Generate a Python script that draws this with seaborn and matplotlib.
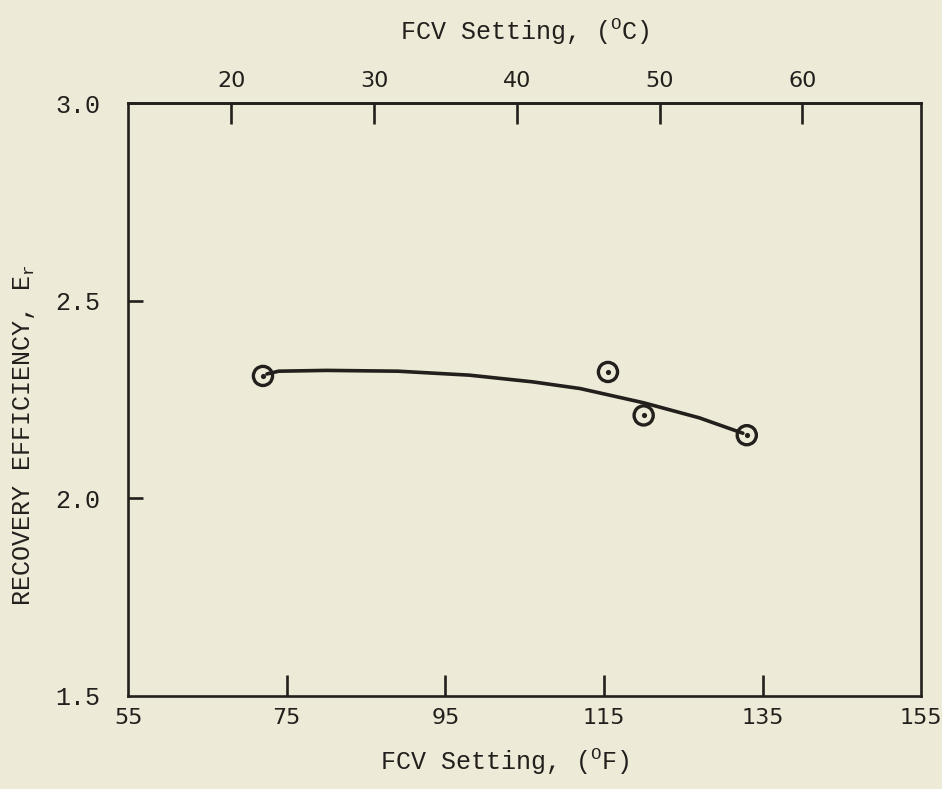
import numpy as np
import matplotlib
matplotlib.use("Agg")
import matplotlib.pyplot as plt
import seaborn as sns

# measured points (FCV setting in deg F, recovery efficiency)
fcv_f = [72.0, 115.5, 120.0, 133.0]
eff_r = [2.31, 2.32, 2.21, 2.16]

# hand-drawn trend curve
curve_f = [72.5, 74.0, 80.0, 89.0, 98.0, 106.0, 112.0, 120.0, 127.0, 132.5]
curve_e = [2.315, 2.322, 2.324, 2.322, 2.312, 2.295, 2.278, 2.242, 2.204, 2.165]

f_ticks = [55, 75, 95, 115, 135, 155]
c_ticks = [20, 30, 40, 50, 60]
e_ticks = [1.5, 2.0, 2.5, 3.0]

paper = "#eeead8"
ink = "#231f1c"
mono = "Liberation Mono"

sns.set_theme(style="ticks")
plt.rcParams["font.family"] = [mono, "DejaVu Sans"]
plt.rcParams["mathtext.fontset"] = "custom"
plt.rcParams["mathtext.rm"] = mono
plt.rcParams["mathtext.tt"] = mono

fig = plt.figure(figsize=(9.42, 7.89), dpi=100, facecolor=paper)
ax = fig.add_axes([0.136, 0.118, 0.842, 0.751], facecolor=paper)

sns.lineplot(x=curve_f, y=curve_e, ax=ax, sort=False, color=ink, linewidth=2.6)
sns.scatterplot(x=fcv_f, y=eff_r, ax=ax, marker="o", s=190, color="none",
                edgecolor=ink, linewidth=2.4, zorder=3)
sns.scatterplot(x=fcv_f, y=eff_r, ax=ax, marker="o", s=14, color=ink,
                edgecolor=ink, linewidth=0, zorder=4)

ax.set_xlim(55, 155)
ax.set_ylim(1.5, 3.0)

for sp in ax.spines.values():
    sp.set_visible(True)
    sp.set_color(ink)
    sp.set_linewidth(1.9)

ax.set_xticks(f_ticks)
ax.set_xticklabels([str(t) for t in f_ticks], family="DejaVu Sans", fontsize=16, color=ink)
ax.set_yticks(e_ticks)
ax.set_yticklabels([f"{t:.1f}" for t in e_ticks], family=mono, fontsize=18, color=ink)
ax.tick_params(axis="x", direction="in", length=15, width=1.9, pad=9, color=ink)
ax.tick_params(axis="y", direction="in", length=11, width=1.9, pad=20, color=ink)
# hide the corner ticks that sit on the frame
for t in ax.xaxis.get_major_ticks()[::len(f_ticks) - 1]:
    t.tick1line.set_visible(False)
for t in (ax.yaxis.get_major_ticks()[0], ax.yaxis.get_major_ticks()[-1]):
    t.tick1line.set_visible(False)

ax.set_xlabel(r"FCV Setting, ($^{\mathrm{O}}$F)", fontsize=18, color=ink, family=mono)
ax.xaxis.set_label_coords(0.475, -0.085)
ax.set_ylabel(r"RECOVERY EFFICIENCY, E$_{\mathrm{r}}$", fontsize=18, color=ink, family=mono)
ax.yaxis.set_label_coords(-0.115, 0.44)

# Celsius scale on top
top = ax.secondary_xaxis("top", functions=(lambda f: (f - 32) / 1.8, lambda c: c * 1.8 + 32))
top.set_xticks(c_ticks)
top.set_xticklabels([str(t) for t in c_ticks], family="DejaVu Sans", fontsize=16, color=ink)
top.tick_params(direction="in", length=15, width=1.9, pad=9, color=ink)
top.spines["top"].set_color(ink)
top.spines["top"].set_linewidth(1.9)
top.set_xlabel(r"FCV Setting, ($^{\mathrm{O}}$C)", fontsize=18, color=ink, family=mono, labelpad=22)

fig.savefig("out.png", dpi=100, facecolor=paper)
